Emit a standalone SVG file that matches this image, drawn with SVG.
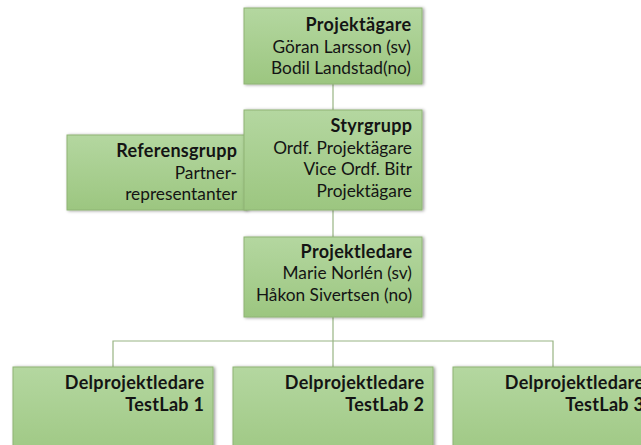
<svg xmlns="http://www.w3.org/2000/svg" width="641" height="445" viewBox="0 0 641 445">
  <defs>
    <linearGradient id="boxFill" x1="0" y1="0" x2="0" y2="1">
      <stop offset="0" stop-color="#b4d7a0"/>
      <stop offset="1" stop-color="#9cc680"/>
    </linearGradient>
    <filter id="shadow" x="-10%" y="-10%" width="120%" height="130%">
      <feDropShadow dx="1.5" dy="0.5" stdDeviation="1.6" flood-color="#000" flood-opacity="0.4"/>
    </filter>
  </defs>
  <style>
    .box { fill: url(#boxFill); stroke: #8fb474; stroke-width: 1; filter: url(#shadow); }
    .conn { fill: none; stroke: #98b483; stroke-width: 1.2; }
    text { font-family: Lato, "Open Sans", "Liberation Sans", sans-serif; font-size: 17.3px; fill: #141414; text-anchor: end; }
    .title { font-weight: bold; font-size: 18px; letter-spacing: 0.3px; }
  </style>

  <rect width="641" height="445" fill="#ffffff"/>

  <!-- connectors -->
  <g id="connectors">
    <line class="conn" x1="333" y1="84" x2="333" y2="110"/>
    <line class="conn" x1="333" y1="210" x2="333" y2="237"/>
    <line class="conn" x1="333" y1="317" x2="333" y2="367"/>
    <polyline class="conn" points="113,367 113,341 553,341 553,367"/>
  </g>

  <g id="projektagare">
    <rect class="box" x="244" y="8" width="178" height="76"/>
    <text class="title" x="411.3" y="31">Projektägare</text>
    <text x="411" y="52.5">Göran Larsson (sv)</text>
    <text x="411" y="74">Bodil Landstad(no)</text>
  </g>

  <!-- sits behind Styrgrupp, its right edge is covered -->
  <g id="referensgrupp">
    <rect class="box" x="67" y="135" width="180" height="75"/>
    <text class="title" x="237.3" y="157">Referensgrupp</text>
    <text x="237" y="178.5">Partner-</text>
    <text x="237" y="200">representanter</text>
  </g>

  <g id="styrgrupp">
    <rect class="box" x="244" y="110" width="178" height="100"/>
    <text class="title" x="412.3" y="132">Styrgrupp</text>
    <text x="412" y="153.5">Ordf. Projektägare</text>
    <text x="412" y="175">Vice Ordf. Bitr</text>
    <text x="412" y="196.5">Projektägare</text>
  </g>

  <g id="projektledare">
    <rect class="box" x="244" y="237" width="178" height="80"/>
    <text class="title" x="412.3" y="257.5">Projektledare</text>
    <text x="412" y="279">Marie Norlén (sv)</text>
    <text x="412" y="300.5">Håkon Sivertsen (no)</text>
  </g>

  <g id="testlab1">
    <rect class="box" x="13" y="367" width="200" height="100"/>
    <text class="title" x="204.3" y="388.5">Delprojektledare</text>
    <text class="title" x="204.3" y="410.5">TestLab 1</text>
  </g>

  <g id="testlab2">
    <rect class="box" x="233" y="367" width="200" height="100"/>
    <text class="title" x="424.3" y="388.5">Delprojektledare</text>
    <text class="title" x="424.3" y="410.5">TestLab 2</text>
  </g>

  <g id="testlab3">
    <rect class="box" x="453" y="367" width="200" height="100"/>
    <text class="title" x="644.3" y="388.5">Delprojektledare</text>
    <text class="title" x="644.3" y="410.5">TestLab 3</text>
  </g>
</svg>
